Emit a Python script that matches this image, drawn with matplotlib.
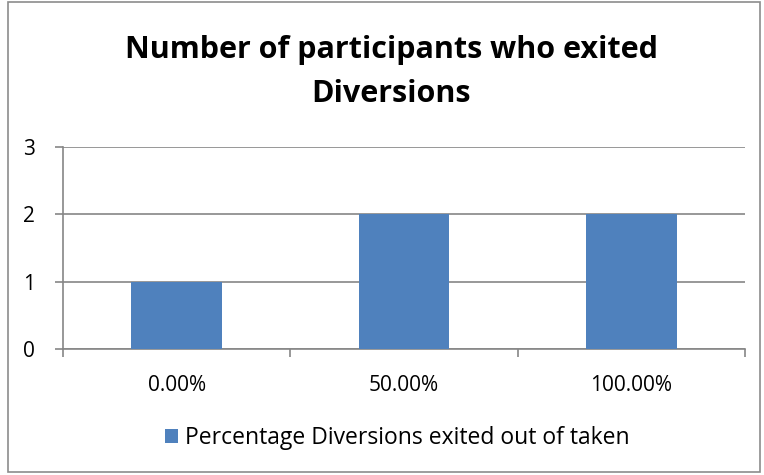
import matplotlib
matplotlib.use('agg')

import matplotlib.pyplot as plt
from matplotlib.patches import Rectangle

categories = ['0.00%', '50.00%', '100.00%']
counts = [1, 2, 2]
series_name = 'Percentage Diversions exited out of taken'
title = 'Number of participants who exited\nDiversions'

plt.rcParams['font.family'] = ['Open Sans', 'DejaVu Sans']

fig = plt.figure(figsize=(7.64, 4.75), dpi=100)
ax = fig.add_axes([63 / 764, 1 - 349 / 475, (745 - 63) / 764, (349 - 147) / 475])

# figure border like an Excel chart area
fig.patches.append(Rectangle((8 / 764, 0.006), 1 - 12 / 764, 0.99, transform=fig.transFigure,
                             fill=False, edgecolor='#8c8c8c', linewidth=1.2))

x = list(range(len(categories)))
ax.bar(x, counts, width=0.4, color='#4F81BD', label=series_name, zorder=3)

ax.set_xlim(-0.5, len(categories) - 0.5)
ax.set_ylim(0, 3)
ax.set_yticks([0, 1, 2, 3])
ax.yaxis.grid(True, color='#868686', linewidth=1.2, zorder=0)

ax.set_xticks([i + 0.5 for i in range(-1, len(categories))], minor=False)
ax.set_xticklabels([''] * (len(categories) + 1))
ax.set_xticks(x, minor=True)
ax.set_xticklabels(categories, minor=True)
ax.tick_params(axis='x', which='minor', length=0, pad=19, labelsize=15)
ax.tick_params(axis='x', which='major', length=6, color='#868686', width=1.2)
ax.tick_params(axis='y', length=6, color='#868686', width=1.2, labelsize=15, pad=14)

for side in ['top', 'right']:
    ax.spines[side].set_visible(False)
ax.spines['left'].set_color('#868686')
ax.spines['bottom'].set_color('#868686')
ax.spines['left'].set_linewidth(1.2)
ax.spines['bottom'].set_linewidth(1.2)

fig.text(0.512, 1 - 72 / 475, title, ha='center', va='center', fontsize=22,
         fontweight='bold', linespacing=1.62)

fig.legend(loc='center', bbox_to_anchor=(0.52, 1 - 438 / 475), frameon=False, fontsize=16.5,
           handlelength=0.6, handleheight=0.6, handletextpad=0.3)

fig.savefig('out.png', dpi=100)
